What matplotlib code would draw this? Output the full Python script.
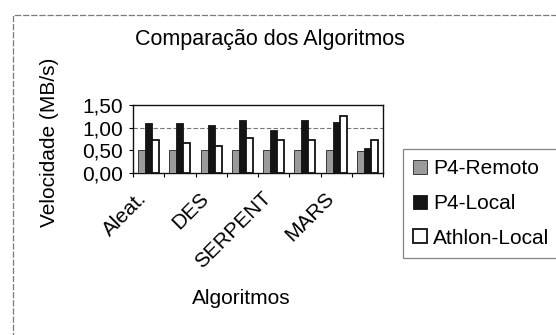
import matplotlib
matplotlib.use("Agg")
import matplotlib.pyplot as plt
import matplotlib.transforms as mtransforms
from matplotlib.patches import Rectangle
import numpy as np

# data
tick_labels = ["Aleat.", "", "DES", "", "SERPENT", "", "MARS", ""]
series_names = ["P4-Remoto", "P4-Local", "Athlon-Local"]
p4_remoto = [0.50, 0.50, 0.50, 0.50, 0.50, 0.50, 0.50, 0.49]
p4_local = [1.10, 1.10, 1.06, 1.18, 0.94, 1.18, 1.13, 0.55]
athlon_local = [0.72, 0.67, 0.60, 0.78, 0.72, 0.72, 1.26, 0.72]
y_ticks = [0.0, 0.5, 1.0, 1.5]

plt.rcParams["font.family"] = ["Liberation Sans", "DejaVu Sans"]
FS = 15

W, H = 556, 335
fig = plt.figure(figsize=(W / 100, H / 100), dpi=100)

# outer chart frame (clipped on right/bottom like the original)
frame = Rectangle((13 / W, -0.2), 1.2, 1 - 15 / H + 0.2, transform=fig.transFigure,
                  fill=False, edgecolor="#7a7a7a", linewidth=0.9, linestyle=(0, (5, 1.5)))
fig.patches.append(frame)

ax = fig.add_axes([133 / W, 1 - 173 / H, 250 / W, 68 / H])

x = np.arange(len(tick_labels))
bw = 0.225
styles = [
    dict(color="#9a9a9a", edgecolor="#222222", linewidth=0.6),
    dict(color="#141414", edgecolor="#141414", linewidth=0.6),
    dict(color="white", edgecolor="#111111", linewidth=1.3),
]
handles = []
for i, (vals, st) in enumerate(zip([p4_remoto, p4_local, athlon_local], styles)):
    b = ax.bar(x + (i - 1) * bw, vals, width=bw, label=series_names[i], zorder=3, **st)
    handles.append(b)

ax.axhline(1.0, color="#777777", linewidth=0.8, linestyle=(0, (4, 2)), zorder=1)

ax.set_xlim(-0.5, len(tick_labels) - 0.5)
ax.set_ylim(0, 1.5)
ax.set_yticks(y_ticks)
ax.set_yticklabels([f"{v:.2f}".replace(".", ",") for v in y_ticks], fontsize=FS)
ax.set_xticks(x)
ax.set_xticklabels(tick_labels, fontsize=FS, rotation=45, ha="right",
                   va="center", rotation_mode="anchor")
ax.set_xticks(np.arange(-0.5, len(tick_labels)), minor=True)
ax.tick_params(axis="x", which="major", length=0, pad=16)
ax.tick_params(axis="x", which="minor", length=3, width=0.8, direction="out")
ax.tick_params(axis="y", length=3, width=0.8, direction="out", pad=4)
offset = mtransforms.ScaledTranslation(-5 / 100, 0, fig.dpi_scale_trans)
for lab in ax.get_xticklabels():
    lab.set_transform(lab.get_transform() + offset)
for sp in ax.spines.values():
    sp.set_linewidth(1.0)
    sp.set_color("#111111")

fig.text(270 / W, 1 - 40 / H, "Comparação dos Algoritmos", fontsize=FS + 0.5,
         ha="center", va="center")
fig.text(50 / W, 1 - 142 / H, "Velocidade (MB/s)", fontsize=FS, rotation=90,
         ha="center", va="center")
fig.text(241 / W, 1 - 298 / H, "Algoritmos", fontsize=FS, ha="center", va="center")

leg = fig.legend(handles=handles, loc="lower left",
                 bbox_to_anchor=(403 / W, 1 - 258 / H, 180 / W, 0.3), mode="expand",
                 fontsize=FS, frameon=True, fancybox=False, shadow=False,
                 handlelength=0.65, handleheight=0.65, handletextpad=0.3,
                 labelspacing=0.75, borderpad=0.5, borderaxespad=0)
leg.get_frame().set_edgecolor("#666666")
leg.get_frame().set_linewidth(0.9)

fig.savefig("out.png", dpi=100)
